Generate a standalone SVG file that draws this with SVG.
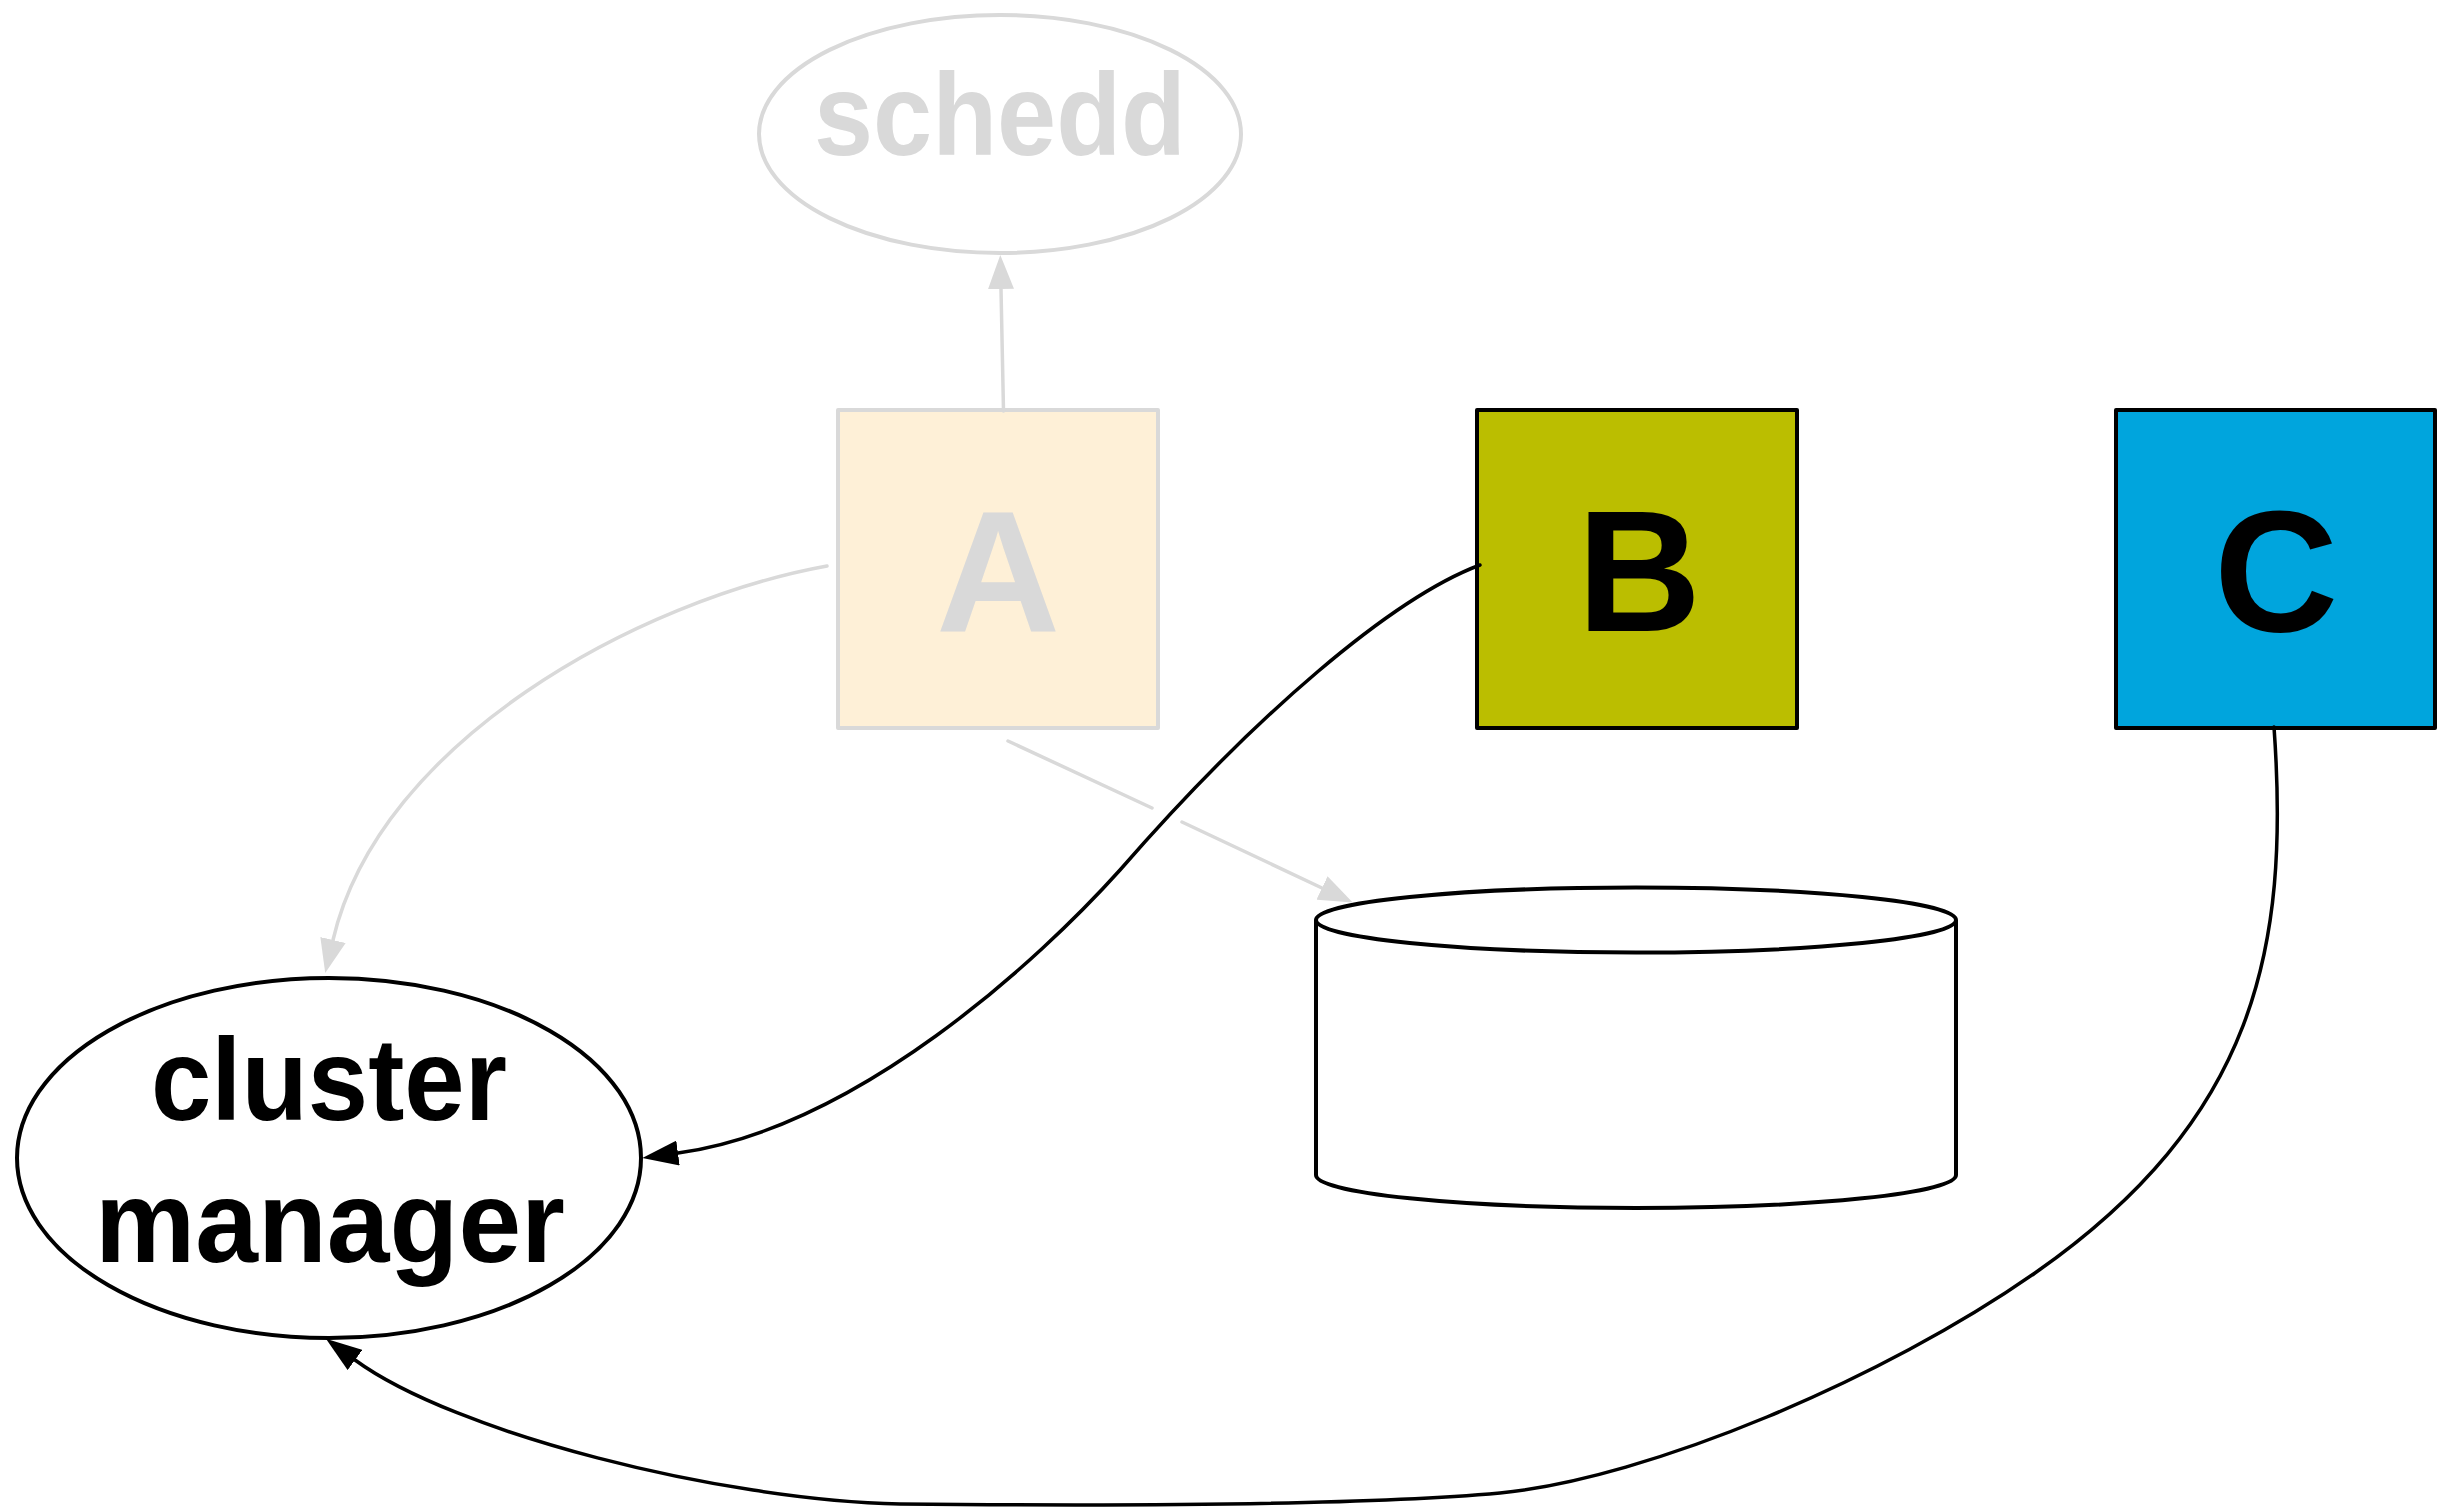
<svg xmlns="http://www.w3.org/2000/svg" width="2442" height="1508" viewBox="0 0 2442 1508">
<style>
  .lbl { font-family: "Liberation Sans", Arial, sans-serif; font-weight: bold; text-anchor: middle; }
  .dim { fill: #d9d9d9; }
  .dark { fill: #000000; }
  .edge-gray { fill: none; stroke: #d9d9d9; stroke-width: 3.5; stroke-linecap: round; }
  .edge-black { fill: none; stroke: #000000; stroke-width: 3.5; stroke-linecap: round; }
  .box { stroke-width: 4; stroke-linejoin: round; }
</style>
<defs>
  <marker id="arrowGray" viewBox="0 0 34 26" markerWidth="34" markerHeight="26" refX="0" refY="13" orient="auto" markerUnits="userSpaceOnUse">
    <path d="M0,0 L34,13 L0,26 z" fill="#d9d9d9"/>
  </marker>
  <marker id="arrowBlack" viewBox="0 0 36 25" markerWidth="36" markerHeight="25" refX="0" refY="12.5" orient="auto" markerUnits="userSpaceOnUse">
    <path d="M0,0 L36,12.5 L0,25 z" fill="#000000"/>
  </marker>
</defs>
<rect x="0" y="0" width="2442" height="1508" fill="#ffffff"/>

<g id="schedd">
  <ellipse cx="1000" cy="134" rx="241" ry="119" fill="#ffffff" stroke="#d9d9d9" stroke-width="4"/>
  <text class="lbl dim" x="1000" y="155" font-size="116" textLength="372" lengthAdjust="spacingAndGlyphs">schedd</text>
</g>

<g id="cluster-manager">
  <ellipse cx="329" cy="1158" rx="312" ry="180" fill="#ffffff" stroke="#000000" stroke-width="4"/>
  <text class="lbl dark" x="329" y="1120" font-size="116" textLength="356" lengthAdjust="spacingAndGlyphs">cluster</text>
  <text class="lbl dark" x="330" y="1262" font-size="116" textLength="470" lengthAdjust="spacingAndGlyphs">manager</text>
</g>

<g id="node-A">
  <rect class="box" x="838" y="410" width="320" height="318" fill="#fef0d7" stroke="#d9d9d9"/>
  <text class="lbl dim" x="998" y="631" font-size="172">A</text>
</g>

<g id="node-B">
  <rect class="box" x="1477" y="410" width="320" height="318" fill="#bbbe00" stroke="#000000"/>
  <text class="lbl dark" x="1639" y="631" font-size="172">B</text>
</g>

<g id="node-C">
  <rect class="box" x="2116" y="410" width="319" height="318" fill="#00a5dd" stroke="#000000"/>
  <text class="lbl dark" x="2276" y="631" font-size="172">C</text>
</g>

<g id="storage">
  <path d="M1316,920 L1316,1175 A320,33 0 0 0 1956,1175 L1956,920" fill="#ffffff" stroke="#000000" stroke-width="4" stroke-linejoin="round"/>
  <ellipse cx="1636" cy="920" rx="320" ry="32.5" fill="#ffffff" stroke="#000000" stroke-width="4"/>
</g>

<g id="connectors">
  <path class="edge-gray" d="M1003.5,411 L1001,289" marker-end="url(#arrowGray)"/>
  <path class="edge-gray" d="M827,566 C640,600 380,740 333,940" marker-end="url(#arrowGray)"/>
  <path class="edge-gray" d="M1008,741 L1152,808"/>
  <path class="edge-gray" d="M1182,822 L1322,888" marker-end="url(#arrowGray)"/>
  <path class="edge-black" d="M1480,565 C1392,598 1255,715 1120,870 C1040,959 858,1128 678,1153" marker-end="url(#arrowBlack)"/>
  <path class="edge-black" d="M2274,727 C2290,950 2255,1119 2035,1273 C1885,1378 1650,1478 1500,1493 C1350,1506.5 1100,1506 900,1504 C720,1500 455,1433 355,1360" marker-end="url(#arrowBlack)"/>
</g>
</svg>
